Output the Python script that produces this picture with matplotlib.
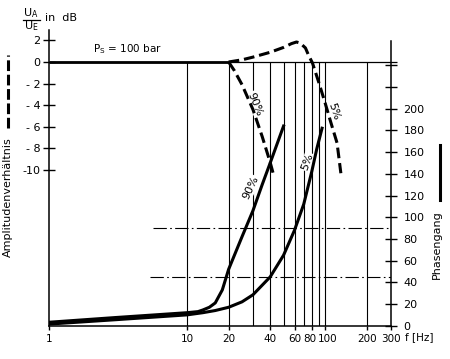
import matplotlib
matplotlib.use("Agg")
import matplotlib.pyplot as plt
from matplotlib.lines import Line2D
from matplotlib.ticker import NullLocator
from matplotlib.transforms import ScaledTranslation

plt.rcParams["font.family"] = ["DejaVu Sans"]
plt.rcParams["mathtext.fontset"] = "dejavusans"

# Phasengang (deg) over f (Hz)
phase_f_90 = [1, 3, 10, 12, 13, 14.5, 16, 18, 20, 25, 30, 35, 40, 50]
phase_90 = [3.2, 7.5, 12, 13, 14.5, 17, 21, 33, 52, 82, 106, 130, 150, 184]
phase_f_5 = [1, 3, 10, 13, 16, 20, 25, 30, 40, 50, 60, 70, 80, 87, 95]
phase_5 = [1.5, 5.5, 10, 12, 14, 17, 22, 28.5, 45, 65, 88, 112, 142, 163, 182]

# Amplitudenverhaeltnis (dB) over f (Hz)
amp_f_low = [1, 20]
amp_low = [0, 0]
amp_f_90 = [20, 22, 25, 30, 35, 40, 42]
amp_90 = [0, -0.8, -2.1, -4.4, -6.9, -9.3, -10.3]
amp_f_5 = [20, 25, 30, 40, 50, 57, 62, 66, 72, 76, 81, 90, 100, 110, 122, 130]
amp_5 = [0, 0.2, 0.45, 0.9, 1.35, 1.7, 1.85, 1.75, 1.3, 0.6, -0.1, -1.9, -3.8, -5.6, -7.5, -10.3]

grid_f = [10, 20, 30, 40, 50, 60, 70, 80, 90, 100, 200]
x_ticks = [1, 10, 20, 40, 60, 80, 100, 200, 300]
db_ticks = [2, 0, -2, -4, -6, -8, -10]
db_labels = ["2", "0", "- 2", "- 4", "- 6", "- 8", "-10"]
phase_ticks = list(range(0, 241, 20))

fig = plt.figure(figsize=(4.5, 3.59), dpi=100)
ax = fig.add_axes([0.1089, 0.0927, 0.76, 0.8237])
axp = ax.twinx()

ax.set_xscale("log")
ax.set_xlim(1, 300)
ax.set_ylim(-24.42, 2.96)
axp.set_ylim(0, 272.5)

for s in ["top", "right"]:
    ax.spines[s].set_visible(False)
for s in ["top", "left", "bottom"]:
    axp.spines[s].set_visible(False)
axp.spines["right"].set_bounds(0, 262)
for sp in [ax.spines["left"], ax.spines["bottom"], axp.spines["right"]]:
    sp.set_linewidth(1.1)

ax.set_xticks(x_ticks)
ax.set_xticklabels([str(v) for v in x_ticks])
ax.xaxis.set_minor_locator(NullLocator())
ax.tick_params(axis="x", direction="out", length=3, width=1, pad=3, labelsize=7.5)
# squeeze "80" and "100" apart a little, they sit very close
for lab in ax.get_xticklabels():
    if lab.get_text() == "80":
        lab.set_transform(lab.get_transform() + ScaledTranslation(-2 / 100, 0, fig.dpi_scale_trans))
    elif lab.get_text() == "100":
        lab.set_transform(lab.get_transform() + ScaledTranslation(2 / 100, 0, fig.dpi_scale_trans))
ax.set_yticks(db_ticks)
ax.set_yticklabels(db_labels)
ax.tick_params(axis="y", direction="inout", length=8, width=1, pad=2, labelsize=8)
axp.set_yticks(phase_ticks)
axp.set_yticklabels([str(v) if v <= 200 else "" for v in phase_ticks])
axp.tick_params(axis="y", direction="inout", length=8, width=1, pad=5, labelsize=8)

# grid and reference lines
ax.vlines(grid_f, ax.get_ylim()[0], 0, color="black", lw=0.8, zorder=1)
ax.hlines(0, 1, 332, color="black", lw=0.9, clip_on=False, zorder=1)
dashdot = (0, (12, 3, 1.5, 3))
axp.hlines(90, 5.7, 300, color="black", lw=0.8, linestyles=[dashdot], zorder=1)
axp.hlines(45, 5.4, 300, color="black", lw=0.8, linestyles=[dashdot], zorder=1)

# labels on curves
box = dict(facecolor="white", edgecolor="none", pad=0.4)
ax.text(31, -3.9, "90%", rotation=-68, ha="center", va="center", fontsize=8, bbox=box, zorder=2)
ax.text(116, -4.6, "5%", rotation=-72, ha="center", va="center", fontsize=8, bbox=box, zorder=2)
ax.text(28.9, 127, "90%", rotation=65, ha="center", va="center", fontsize=8, bbox=box, zorder=2,
        transform=axp.transData)
ax.text(74.5, 151, "5%", rotation=70, ha="center", va="center", fontsize=8, bbox=box, zorder=2,
        transform=axp.transData)

# amplitude curves (dashed)
ax.plot(amp_f_low, amp_low, color="black", lw=2.0, solid_capstyle="butt", zorder=3)
ax.plot(amp_f_90, amp_90, color="black", lw=2.2, dashes=(3.5, 1.6), zorder=3)
ax.plot(amp_f_5, amp_5, color="black", lw=2.2, dashes=(3.5, 1.6), zorder=3)

# phase curves (solid)
axp.plot(phase_f_90, phase_90, color="black", lw=2.2, zorder=3)
axp.plot(phase_f_5, phase_5, color="black", lw=2.2, zorder=3)

ax.text(2.1, 0.6, r"P$_\mathregular{S}$ = 100 bar", fontsize=7.5, ha="left", va="bottom")

# axis titles
fig.text(31 / 450, 1 - 13 / 359, r"U$_\mathregular{A}$", fontsize=8, ha="center", va="center")
fig.add_artist(Line2D([23 / 450, 40 / 450], [1 - 19.5 / 359] * 2, color="black", lw=0.9))
fig.text(31 / 450, 1 - 26 / 359, r"U$_\mathregular{E}$", fontsize=8, ha="center", va="center")
fig.text(45 / 450, 1 - 18 / 359, "in  dB", fontsize=8, ha="left", va="center")

fig.text(8 / 450, 1 - 197 / 359, "Amplitudenverhältnis", rotation=90, fontsize=8,
         ha="center", va="center")
fig.add_artist(Line2D([8 / 450] * 2, [1 - 128 / 359, 1 - 55 / 359], color="black", lw=2.2,
                      dashes=(3.5, 1.2)))
fig.text(437 / 450, 1 - 245 / 359, "Phasengang", rotation=90, fontsize=8,
         ha="center", va="center")
fig.add_artist(Line2D([440 / 450] * 2, [1 - 200 / 359, 1 - 145 / 359], color="black", lw=2.2))
fig.text(405 / 450, 1 - 337 / 359, "f [Hz]", fontsize=7.5, ha="left", va="center")

fig.savefig("out.png", dpi=100)
